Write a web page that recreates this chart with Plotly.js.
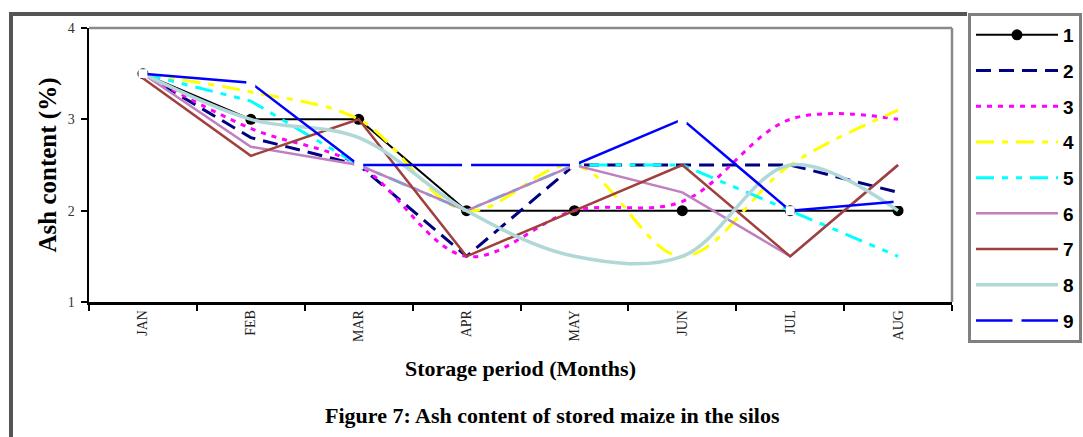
<!DOCTYPE html>
<html>
<head>
<meta charset="utf-8">
<script src="https://cdn.plot.ly/plotly-3.0.1.min.js"></script>
<style>html,body{margin:0;padding:0;background:#fff;}#chart{width:1083px;height:437px;}</style>
</head>
<body>
<div id="chart"></div>
<script>
const months = ["JAN","FEB","MAR","APR","MAY","JUN","JUL","AUG"];
const silo1 = [3.5, 3.0, 3.0, 2.0, 2.0, 2.0, 2.0, 2.0];
const silo2 = [3.5, 2.8, 2.5, 1.5, 2.5, 2.5, 2.5, 2.2];
const silo3 = [3.5, 2.9, 2.5, 1.5, 2.0, 2.1, 3.0, 3.0];
const silo4 = [3.5, 3.3, 3.0, 2.0, 2.5, 1.5, 2.5, 3.1];
const silo5 = [3.5, 3.2, 2.5, 2.0, 2.5, 2.5, 2.0, 1.5];
const silo6 = [3.5, 2.7, 2.5, 2.0, 2.5, 2.2, 1.5, 2.5];
const silo7 = [3.45, 2.6, 3.0, 1.5, 2.0, 2.5, 1.5, 2.5];
const silo8 = [3.5, 3.0, 2.8, 2.0, 1.5, 1.5, 2.5, 2.0];
const silo9 = [3.5, 3.4, 2.5, 2.5, 2.5, 3.0, 2.0, 2.1];
const seriesNames = ["1","2","3","4","5","6","7","8","9"];

const styles = [
  {color:"#000000", width:2, dash:"solid", shape:"linear", mode:"lines+markers", marker:{symbol:"circle", size:11, color:"#000000"}},
  {color:"#000080", width:3, dash:"15px,8px", shape:"linear", mode:"lines"},
  {color:"#FF00FF", width:3, dash:"5px,6px", shape:"spline", mode:"lines"},
  {color:"#FFFF00", width:3, dash:"18px,8px,6px,8px", shape:"spline", mode:"lines"},
  {color:"#00FFFF", width:3, dash:"18px,8px,6px,8px,6px,8px", shape:"linear", mode:"lines"},
  {color:"#C080C0", width:2.5, dash:"solid", shape:"linear", mode:"lines"},
  {color:"#A0403C", width:2.5, dash:"solid", shape:"linear", mode:"lines"},
  {color:"#B0D8D8", width:3.5, dash:"solid", shape:"spline", mode:"lines"},
  {color:"#0000FF", width:2.5, dash:"solid", shape:"linear", mode:"lines+markers", marker:{symbol:"square", size:9, color:"#FFFFFF"}}
];
const allSeries = [silo1, silo2, silo3, silo4, silo5, silo6, silo7, silo8, silo9];

const traces = allSeries.map((ys, i) => {
  const s = styles[i];
  const t = {
    type:"scatter", x: months, y: ys, name: seriesNames[i], mode: s.mode,
    legendgroup: "g" + i,
    line: {color: s.color, width: s.width, dash: s.dash, shape: s.shape}
  };
  if (s.marker) t.marker = s.marker;
  return t;
});

// plot area in pixels: x 89..952, y 28..302
const W = 1083, H = 437;
const L = 89, R = 952, T = 28, B = 302;
const px = v => (v - L) / (R - L);
const py = v => (B - v) / (B - T);

const serif = "Liberation Serif, Times New Roman, serif";

const layout = {
  width: W, height: H,
  margin: {l: L, r: W - R, t: T, b: H - B},
  paper_bgcolor: "#ffffff", plot_bgcolor: "#ffffff",
  showlegend: true,
  legend: {
    xref: "container", yref: "container",
    x: 968 / W, y: 1 - 13 / H, xanchor: "left", yanchor: "top",
    bordercolor: "#808080", borderwidth: 3, bgcolor: "#ffffff",
    font: {family: "Liberation Sans, Arial, sans-serif", size: 19, color: "#000", weight: "bold"},
    itemwidth: 82, tracegroupgap: 8, maxheight: 420
  },
  xaxis: {
    type: "category", range: [-0.5, 7.5], tickson: "boundaries",
    ticks: "outside", ticklen: 6, tickwidth: 2, tickcolor: "#000",
    showline: true, linecolor: "#000", linewidth: 2.5, showgrid: false, zeroline: false,
    tickangle: -90,
    tickfont: {family: serif, size: 14, color: "#222"},
    title: {text: "Storage period (Months)", standoff: 20,
            font: {family: serif, size: 22, color: "#000", weight: "bold"}},
    automargin: false
  },
  yaxis: {
    range: [1, 4], dtick: 1, tick0: 1,
    ticks: "outside", ticklen: 6, tickwidth: 2, tickcolor: "#000",
    showline: true, linecolor: "#000", linewidth: 2.5, showgrid: false, zeroline: false,
    tickfont: {family: serif, size: 14, color: "#333"},
    ticklabelstandoff: 3,
    title: {text: "Ash content (%)", standoff: 4,
            font: {family: serif, size: 25, color: "#000", weight: "bold"}},
    automargin: false
  },
  shapes: [
    {type: "line", xref: "paper", yref: "paper", x0: 0, x1: 1, y0: 1, y1: 1, line: {color: "#8a8a8a", width: 2.5}},
    {type: "line", xref: "paper", yref: "paper", x0: 1, x1: 1, y0: 0, y1: 1, line: {color: "#8a8a8a", width: 2.5}},
    {type: "line", xref: "paper", yref: "paper", x0: px(9), x1: px(967), y0: py(14), y1: py(14), line: {color: "#555555", width: 4}},
    {type: "line", xref: "paper", yref: "paper", x0: px(11), x1: px(11), y0: py(12), y1: py(440), line: {color: "#555555", width: 4}}
  ],
  annotations: [
    {xref: "paper", yref: "paper", x: px(552), y: py(415), xanchor: "center", yanchor: "middle",
     showarrow: false, text: "<b>Figure 7: Ash content of stored maize in the silos</b>",
     font: {family: serif, size: 22, color: "#000"}}
  ]
};

Plotly.newPlot("chart", traces, layout, {displayModeBar: false, staticPlot: true});
</script>
</body>
</html>
